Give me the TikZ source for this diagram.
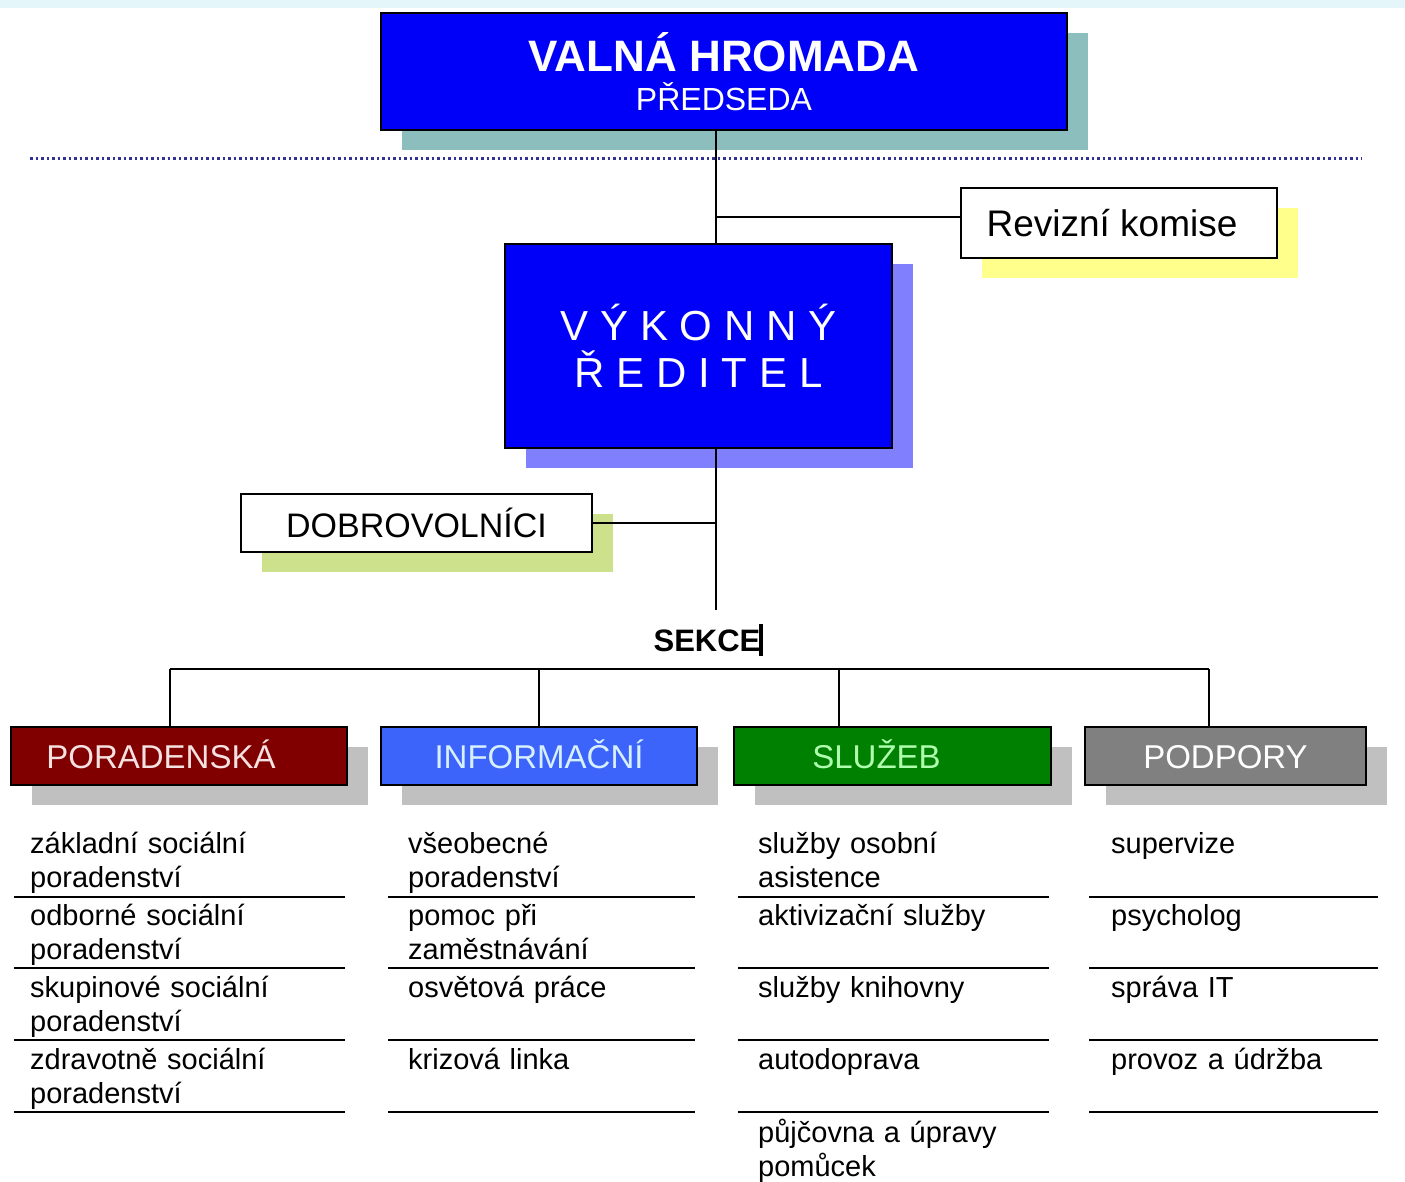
\documentclass[tikz,border=0pt]{standalone}
\usepackage{fontspec}
\setmainfont{Liberation Sans}
\newfontfamily\spacedfont[LetterSpace=28]{Liberation Sans}
\usetikzlibrary{shadows}
\definecolor{topband}{RGB}{228,246,250}
\definecolor{boxblue}{RGB}{0,0,248}
\definecolor{tealshadow}{RGB}{140,190,190}
\definecolor{yellowshadow}{RGB}{255,255,140}
\definecolor{violetshadow}{RGB}{128,128,255}
\definecolor{greenshadow}{RGB}{205,225,140}
\definecolor{grayshadow}{RGB}{192,192,192}
\definecolor{dotblue}{RGB}{50,50,150}
\definecolor{secred}{RGB}{128,0,0}
\definecolor{secblue}{RGB}{60,100,250}
\definecolor{secgreen}{RGB}{0,128,0}
\definecolor{secgray}{RGB}{128,128,128}
\definecolor{txtred}{RGB}{245,225,225}
\definecolor{txtblue}{RGB}{215,240,255}
\definecolor{txtgreen}{RGB}{175,255,175}
\begin{document}
\begin{tikzpicture}[x=1pt,y=-1pt,
  sh/.style={drop shadow={shadow xshift=21pt,shadow yshift=-20pt,fill=#1,opacity=1}},
  bigbox/.style={draw=black,line width=1.5pt,fill=boxblue,text=white,inner sep=0pt,align=center},
  whitebox/.style={draw=black,line width=1.5pt,fill=white,text=black,inner sep=0pt},
  secbox/.style={draw=black,line width=1.5pt,minimum height=58pt,inner sep=0pt,
     text height=24pt,text depth=0pt,
     font=\fontsize{33}{40}\selectfont,sh=grayshadow},
  conn/.style={draw=black,line width=2pt},
  sep/.style={draw=black,line width=2pt},
  item/.style={anchor=base west,inner sep=0pt,text width=330pt,align=left,
     font=\fontsize{29}{34}\selectfont}
]
\useasboundingbox (0,0) rectangle (1405,1181);
\fill[topband] (0,0) rectangle (1405,8);

% top box
\node[bigbox,sh=tealshadow,minimum width=686pt,minimum height=117pt] (valna) at (724,71.5)
  {{\fontsize{44}{44}\selectfont\bfseries VALNÁ HROMADA}\\[10pt]{\fontsize{32}{38}\selectfont PŘEDSEDA}};

% dotted separator
\draw[dotblue,line width=3pt,dash pattern=on 2.5pt off 3pt] (30,158) -- (1362,158);

% Revizni komise
\node[whitebox,sh=yellowshadow,minimum width=316pt,minimum height=70pt,
  font=\fontsize{37}{40}\selectfont] (reviz) at (1119,223) {\hspace*{-14pt}Revizní komise};

% Vykonny reditel
\node[bigbox,sh=violetshadow,minimum width=387pt,minimum height=204pt,
  font=\fontsize{42}{47}\selectfont\spacedfont] (vykon) at (698.5,346) {VÝKONNÝ\\ŘEDITEL};

% Dobrovolnici
\node[whitebox,sh=greenshadow,minimum width=351pt,minimum height=58pt,
  font=\fontsize{34}{40}\selectfont] (dobro) at (416.5,523) {DOBROVOLNÍCI};

% trunk coordinates
\coordinate (trunk) at (716,0);
\coordinate (rj) at (716,217);
\coordinate (sekcetop) at (716,610);
\draw[conn] (valna.south -| trunk) -- (vykon.north -| trunk);
\draw[conn] (rj) -- (rj -| reviz.west);
\draw[conn] (vykon.south -| trunk) -- (sekcetop);
\draw[conn] (dobro.east) -- (dobro.east -| trunk);

% SEKCE
\node[inner sep=0pt,anchor=base,font=\fontsize{31}{34}\selectfont\bfseries] (sekce) at (707,651) {SEKCE};
\draw[black,line width=4pt] (sekce.base east) ++(0,5) -- ++(0,-32);

% section boxes
\node[secbox,fill=secred,text=txtred,minimum width=336pt] (por) at (179,756) {PORADENSKÁ\hspace*{36pt}};
\node[secbox,fill=secblue,text=txtblue,minimum width=316pt] (inf) at (539,756) {INFORMAČNÍ};
\node[secbox,fill=secgreen,text=txtgreen,minimum width=317pt] (slu) at (892.5,756) {SLUŽEB\hspace*{32pt}};
\node[secbox,fill=secgray,text=white,minimum width=281pt] (pod) at (1225.5,756) {PODPORY};

% bus
\coordinate (b1) at (170,669);
\coordinate (b2) at (539,669);
\coordinate (b3) at (839,669);
\coordinate (b4) at (1209,669);
\draw[conn] (b1) -- (b4);
\draw[conn] (b1) -- (b1 |- por.north);
\draw[conn] (b2) -- (b2 |- inf.north);
\draw[conn] (b3) -- (b3 |- slu.north);
\draw[conn] (b4) -- (b4 |- pod.north);

% column 1
\node[item] (p1) at (30,853) {základní sociální\\poradenství};
\node[item] (p2) at (30,925) {odborné sociální\\poradenství};
\node[item] (p3) at (30,997) {skupinové sociální\\poradenství};
\node[item] (p4) at (30,1069) {zdravotně sociální\\poradenství};
\foreach \y in {897,968,1040,1112} \draw[sep] (14,\y) -- (345,\y);

% column 2
\node[item] (i1) at (408,853) {všeobecné\\poradenství};
\node[item] (i2) at (408,925) {pomoc při\\zaměstnávání};
\node[item] (i3) at (408,997) {osvětová práce};
\node[item] (i4) at (408,1069) {krizová linka};
\foreach \y in {897,968,1040,1112} \draw[sep] (388,\y) -- (695,\y);

% column 3
\node[item] (s1) at (758,853) {služby osobní\\asistence};
\node[item] (s2) at (758,925) {aktivizační služby};
\node[item] (s3) at (758,997) {služby knihovny};
\node[item] (s4) at (758,1069) {autodoprava};
\node[item] (s5) at (758,1142) {půjčovna a úpravy\\pomůcek};
\foreach \y in {897,968,1040,1112} \draw[sep] (738,\y) -- (1049,\y);

% column 4
\node[item] (d1) at (1111,853) {supervize};
\node[item] (d2) at (1111,925) {psycholog};
\node[item] (d3) at (1111,997) {správa IT};
\node[item] (d4) at (1111,1069) {provoz a údržba};
\foreach \y in {897,968,1040,1112} \draw[sep] (1089,\y) -- (1378,\y);
\end{tikzpicture}
\end{document}
